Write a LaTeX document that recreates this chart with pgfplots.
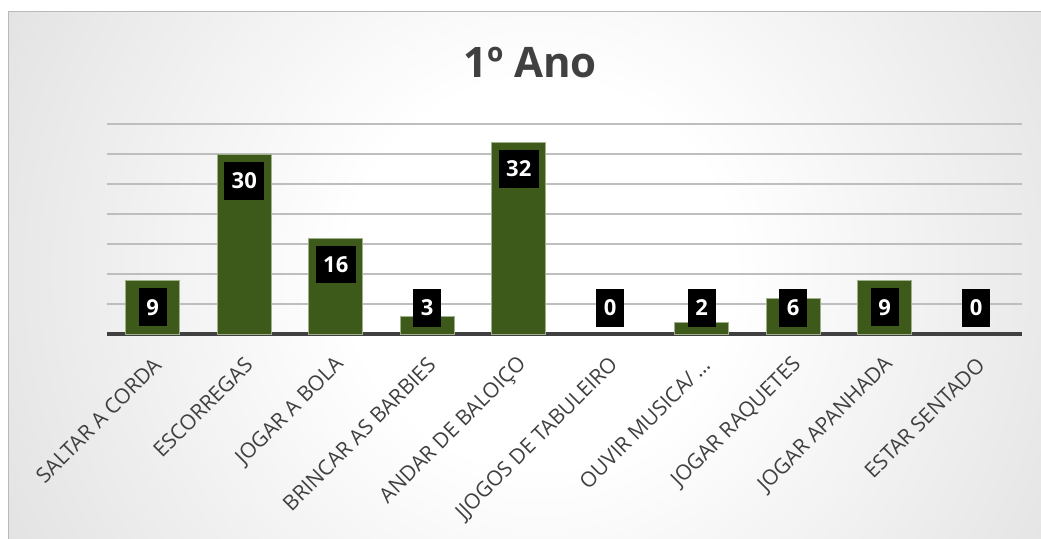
\documentclass[border=0pt]{standalone}
\usepackage{fontspec}
\setmainfont{Open Sans}
\usepackage{pgfplots}
\pgfplotsset{compat=1.18}
\definecolor{barfill}{HTML}{3D5A1A}
\definecolor{barline}{HTML}{9FB08A}
\definecolor{txt}{HTML}{404040}
\definecolor{gridc}{HTML}{BEBEBE}
\definecolor{bgmid}{HTML}{CDCDCD}
\definecolor{bgouter}{HTML}{B8B8B8}
\pgfdeclareradialshading{bgshade}{\pgfpoint{0bp}{0bp}}{color(0bp)=(white); color(8bp)=(white); color(38bp)=(bgmid); color(50bp)=(bgouter)}
\begin{document}
\begin{tikzpicture}[x=1pt,y=1pt]
\useasboundingbox (0,0) rectangle (1041,538);
\fill[white] (0,0) rectangle (1041,538);
\begin{scope}
\clip (8,0) rectangle (1041,526);
\shade[shading=bgshade] (-60,-335) rectangle (1140,865);
\end{scope}
\draw[gray!55, line width=1pt] (8,-1) -- (8,526) -- (1042,526);
\node[font=\fontsize{42}{48}\selectfont\bfseries, text=txt, anchor=base] at (530,460) {1º Ano};
\begin{axis}[
  at={(107pt,204pt)}, anchor=south west,
  scale only axis, width=915pt, height=210pt,
  xmin=-0.5, xmax=9.5, ymin=0, ymax=35,
  clip=false,
  axis line style={draw=none},
  major tick length=0pt,
  ytick={5,10,...,35}, yticklabels={},
  ymajorgrids, grid style={gridc, line width=1.5pt},
  extra y ticks={0}, extra y tick labels={},
  extra y tick style={grid style={draw=txt, line width=4pt}},
  xtick={0,...,9},
  xticklabels={SALTAR A CORDA, ESCORREGAS, JOGAR A BOLA, BRINCAR AS BARBIES, ANDAR DE BALOIÇO, JJOGOS DE TABULEIRO, OUVIR MUSICA/\,…, JOGAR RAQUETES, JOGAR APANHADA, ESTAR SENTADO},
  xticklabel style={xshift=7pt, font=\fontsize{21}{25}\selectfont, text=txt, rotate=45, anchor=east},
  xticklabel shift=25pt,
]
\addplot[ybar, bar width=54pt, bar shift=0pt, fill=barfill, draw=barline, line width=0.8pt]
  coordinates {(0,9) (1,30) (2,16) (3,3) (4,32) (6,2) (7,6) (8,9)};
\addplot[draw=none, mark=none, nodes near coords, point meta=explicit symbolic,
  every node near coord/.append style={anchor=center, fill=black, text=white,
    font=\fontsize{22}{26}\selectfont\bfseries, inner xsep=7.5pt, inner ysep=11pt,
    text height=15.6pt, text depth=0pt}]
  table[x=x, y=y, meta=v] {
x y v
0 4.45 9
1 25.5 30
2 11.6 16
3 4.35 3
4 27.5 32
5 4.35 0
6 4.35 2
7 4.35 6
8 4.45 9
9 4.35 0
};
\end{axis}
\end{tikzpicture}
\end{document}
